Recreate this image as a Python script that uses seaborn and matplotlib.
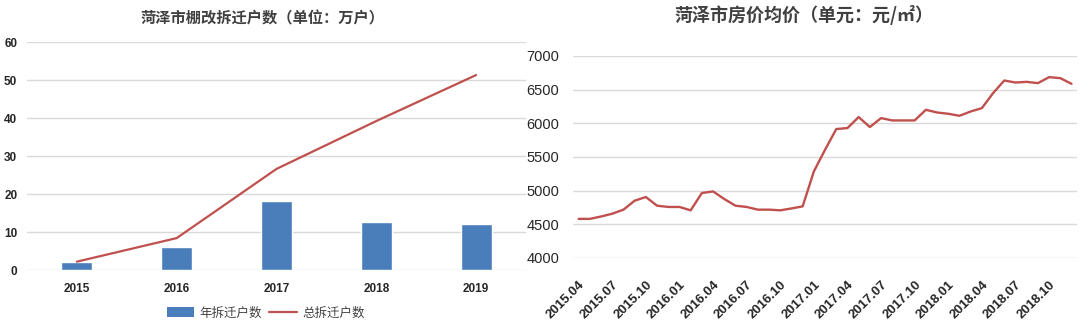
import numpy as np
import pandas as pd
import matplotlib
matplotlib.use("Agg")
import matplotlib.pyplot as plt
import seaborn as sns
from matplotlib.patches import Patch
from matplotlib.lines import Line2D

# ---------------- data ----------------
years = ["2015", "2016", "2017", "2018", "2019"]
annual_households = [2.2, 6.1, 18.2, 12.7, 12.0]      # 年拆迁户数 (万户)
total_households = [2.2, 8.4, 26.6, 39.2, 51.3]       # 总拆迁户数 (万户)

months = [
    "2015.04", "2015.05", "2015.06", "2015.07", "2015.08", "2015.09",
    "2015.10", "2015.11", "2015.12", "2016.01", "2016.02", "2016.03",
    "2016.04", "2016.05", "2016.06", "2016.07", "2016.08", "2016.09",
    "2016.10", "2016.11", "2016.12", "2017.01", "2017.02", "2017.03",
    "2017.04", "2017.05", "2017.06", "2017.07", "2017.08", "2017.09",
    "2017.10", "2017.11", "2017.12", "2018.01", "2018.02", "2018.03",
    "2018.04", "2018.05", "2018.06", "2018.07", "2018.08", "2018.09",
    "2018.10", "2018.11", "2018.12",
]
avg_price = [
    4580, 4580, 4615, 4657, 4717, 4850,
    4905, 4776, 4757, 4757, 4707, 4964,
    4988, 4875, 4776, 4757, 4717, 4717,
    4707, 4735, 4766, 5285, 5607, 5914,
    5929, 6092, 5944, 6077, 6042, 6042,
    6042, 6200, 6160, 6141, 6111, 6175,
    6225, 6448, 6635, 6605, 6615, 6596,
    6685, 6670, 6586,
]

left_yticks = [0, 10, 20, 30, 40, 50, 60]
right_yticks = [4000, 4500, 5000, 5500, 6000, 6500, 7000]

left_title = "菏泽市棚改拆迁户数（单位：万户）"
right_title = "菏泽市房价均价（单元：元/㎡）"
legend_labels = ["年拆迁户数", "总拆迁户数"]

# ---------------- style ----------------
sns.set_theme(style="white")
plt.rcParams["font.family"] = ["Noto Sans CJK SC", "DejaVu Sans"]

BAR_BLUE = "#4A7EBB"
LINE_RED = "#C0504D"
GRID = "#D9D9D9"
TXT = "#262626"

fig = plt.figure(figsize=(10.8, 3.29), dpi=100)
fig.patch.set_facecolor("white")

# ---------------- left chart ----------------
ax1 = fig.add_axes([0.025, 0.1793, 0.462, 0.693])
df_bar = pd.DataFrame({"year": years, "annual": annual_households, "total": total_households})
sns.barplot(data=df_bar, x="year", y="annual", color=BAR_BLUE, width=0.31,
            saturation=1, ax=ax1, zorder=2)
sns.pointplot(data=df_bar, x="year", y="total", color=LINE_RED, markers="",
              linewidth=1.6, ax=ax1, zorder=3)
ax1.set_ylim(0, 60)
ax1.set_xlim(-0.5, 4.5)
ax1.set_yticks(left_yticks)
ax1.yaxis.grid(True, color=GRID, linewidth=1)
ax1.set_axisbelow(True)
for s in ax1.spines.values():
    s.set_visible(False)
ax1.set_xlabel("")
ax1.set_ylabel("")
ax1.tick_params(axis="both", length=0)
ax1.tick_params(axis="y", pad=7)
ax1.tick_params(axis="x", pad=9)
for lab in ax1.get_yticklabels() + ax1.get_xticklabels():
    lab.set_fontfamily("Liberation Sans")
    lab.set_fontweight("bold")
    lab.set_fontsize(8.5)
    lab.set_color(TXT)
fig.text(0.2435, 0.945, left_title, ha="center", va="center",
         fontsize=11, fontweight="bold", color="#404040")

handles = [Patch(facecolor=BAR_BLUE, edgecolor="none"),
           Line2D([0], [0], color=LINE_RED, linewidth=1.6)]
fig.legend(handles, legend_labels, loc="center", bbox_to_anchor=(0.246, 0.0486),
           ncol=2, frameon=False, fontsize=9, handlelength=2.2, handleheight=0.9,
           columnspacing=0.6, handletextpad=0.4, labelcolor="#404040")

# ---------------- right chart ----------------
ax2 = fig.add_axes([0.5306, 0.216, 0.4667, 0.614])
df_price = pd.DataFrame({"idx": np.arange(len(months)), "price": avg_price})
sns.lineplot(data=df_price, x="idx", y="price", color=LINE_RED, linewidth=1.7, ax=ax2)
ax2.set_ylim(4000, 7000)
ax2.set_xlim(-0.5, len(months) - 0.5)
ax2.set_yticks(right_yticks)
tick_pos = list(range(0, len(months), 3))
ax2.set_xticks(tick_pos)
ax2.set_xticklabels([months[i] for i in tick_pos], rotation=45, ha="right",
                    va="top", rotation_mode="anchor")
ax2.yaxis.grid(True, color=GRID, linewidth=1)
ax2.set_axisbelow(True)
for s in ax2.spines.values():
    s.set_visible(False)
ax2.set_xlabel("")
ax2.set_ylabel("")
ax2.tick_params(axis="both", length=0)
ax2.tick_params(axis="y", pad=10)
ax2.tick_params(axis="x", pad=15)
for lab in ax2.get_yticklabels():
    lab.set_fontfamily("Liberation Sans")
    lab.set_fontsize(10.5)
    lab.set_color(TXT)
for lab in ax2.get_xticklabels():
    lab.set_fontfamily("Liberation Sans")
    lab.set_fontweight("bold")
    lab.set_fontsize(9.5)
    lab.set_color(TXT)
fig.text(0.744, 0.954, right_title, ha="center", va="center",
         fontsize=13, fontweight="bold", color="#404040",
         family=["Noto Sans CJK SC", "DejaVu Sans"])

fig.savefig("out.png", dpi=100, facecolor="white")
